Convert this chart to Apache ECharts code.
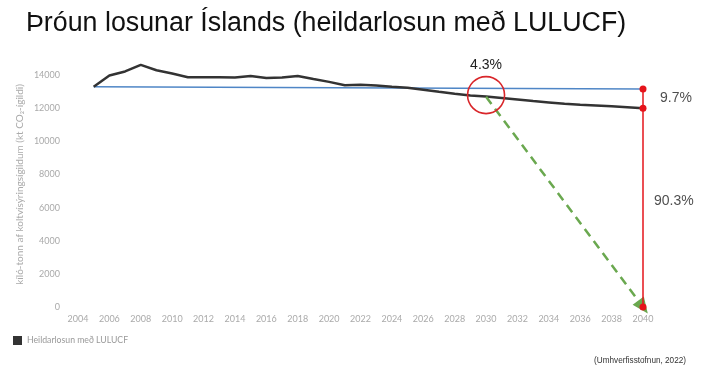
<!DOCTYPE html>
<html>
<head>
<meta charset="utf-8">
<script src="https://cdn.jsdelivr.net/npm/echarts@6/dist/echarts.min.js"></script>
<style>
html,body{margin:0;padding:0;background:#fff;}
#chart{width:713px;height:371px;}
</style>
</head>
<body>
<div id="chart"></div>
<script>
var years = [2005,2006,2007,2008,2009,2010,2011,2012,2013,2014,2015,2016,2017,2018,2019,2020,2021,2022,2023,2024,2025,2026,2027,2028,2029,2030,2031,2032,2033,2034,2035,2036,2037,2038,2039,2040];
var emissions = [13300,13980,14230,14630,14300,14100,13880,13880,13880,13870,13950,13830,13870,13950,13770,13600,13400,13420,13380,13300,13250,13130,13000,12880,12780,12710,12620,12530,12440,12360,12280,12220,12170,12120,12070,12010];
var baselineYears = [2005, 2040];
var baselineValues = [13300, 13170];
var targetYear = 2040;
var redPoints = [13170, 12010, 0];
var arrowStart = [2030, 12700];
var arrowEnd = [2040, 0];
var circlePoint = [2030, 12800];
var labels = {
  circle: '4.3%',
  gap: '9.7%',
  remaining: '90.3%'
};
var seriesName = 'Heildarlosun með LULUCF';
var titleText = 'Þróun losunar Íslands (heildarlosun með LULUCF)';
var yAxisName = 'kíló-tonn af koltvísýringsígildum (kt CO₂-ígildi)';
var sourceText = '(Umhverfisstofnun, 2022)';

var chart = echarts.init(document.getElementById('chart'));
var lineData = years.map(function(y, i){ return [y, emissions[i]]; });
var baseData = baselineYears.map(function(y, i){ return [y, baselineValues[i]]; });
var redData = redPoints.map(function(v){ return [targetYear, v]; });
var plain = function(v){ return String(v); };

var option = {
  backgroundColor: '#fff',
  animation: false,
  title: [
    { text: titleText, left: 21, top: 5,
      textStyle: { fontFamily: 'Liberation Sans', fontSize: 26.8, fontWeight: 'normal', color: '#111' } },
    { text: sourceText, right: 22, top: 352,
      textStyle: { fontFamily: 'Liberation Sans', fontSize: 8.2, fontWeight: 'normal', color: '#333' } }
  ],
  legend: {
    data: [{ name: seriesName, icon: 'rect' }],
    left: 8, top: 331, itemWidth: 9, itemHeight: 9, itemGap: 4,
    textStyle: { fontFamily: 'Lato', fontSize: 8.7, color: '#999' }
  },
  grid: { left: 78, right: 70, top: 62, bottom: 64, containLabel: false },
  xAxis: {
    type: 'value', min: 2004, max: 2040, interval: 2,
    axisLine: { show: false }, axisTick: { show: false }, splitLine: { show: false },
    axisLabel: { color: '#aaa', fontFamily: 'Lato', fontSize: 9, margin: 8, formatter: plain }
  },
  yAxis: {
    type: 'value', min: 0, max: 14800, interval: 2000,
    name: yAxisName, nameLocation: 'middle', nameGap: 53, nameMoveOverlap: false,
    nameTextStyle: { color: '#aaa', fontFamily: 'Lato', fontSize: 10 },
    axisLine: { show: false }, axisTick: { show: false }, splitLine: { show: false },
    axisLabel: { color: '#aaa', fontFamily: 'Lato', fontSize: 9, margin: 18, showMaxLabel: false, formatter: plain }
  },
  series: [
    {
      name: 'baseline', type: 'line', data: baseData, symbol: 'none',
      lineStyle: { color: '#4f86c6', width: 1.5 }, z: 2
    },
    {
      name: seriesName, type: 'line', data: lineData, symbol: 'none',
      itemStyle: { color: '#333' },
      lineStyle: { color: '#333', width: 2.5 }, z: 3,
      markLine: {
        silent: true, symbol: ['none', 'triangle'], symbolSize: [14, 16],
        lineStyle: { color: '#6aa84f', type: [9, 6], width: 2.5 },
        label: { show: false },
        data: [[{ coord: arrowStart }, { coord: arrowEnd }]]
      }
    },
    {
      name: 'red', type: 'line', data: redData, symbol: 'circle', symbolSize: 7,
      itemStyle: { color: '#e5141b' },
      lineStyle: { color: '#e5141b', width: 1.5 }, z: 5
    },
    {
      name: 'circle', type: 'scatter', data: [circlePoint], symbol: 'circle', symbolSize: 37,
      itemStyle: { color: 'rgba(0,0,0,0)', borderColor: '#d9262a', borderWidth: 1.6, opacity: 1 }, z: 6,
      label: { show: true, position: 'top', distance: 4, formatter: labels.circle,
        fontFamily: 'Liberation Sans', fontSize: 14, color: '#222' }
    },
    {
      name: 'labels', type: 'scatter', symbolSize: 0, z: 7,
      data: [
        { value: [targetYear, (redPoints[0] + redPoints[1]) / 2], label: { formatter: labels.gap, distance: 17 } },
        { value: [targetYear, 6400], label: { formatter: labels.remaining, distance: 11 } }
      ],
      label: { show: true, position: 'right', fontFamily: 'Liberation Sans', fontSize: 14, color: '#222' }
    }
  ]
};
chart.setOption(option);
</script>
</body>
</html>
